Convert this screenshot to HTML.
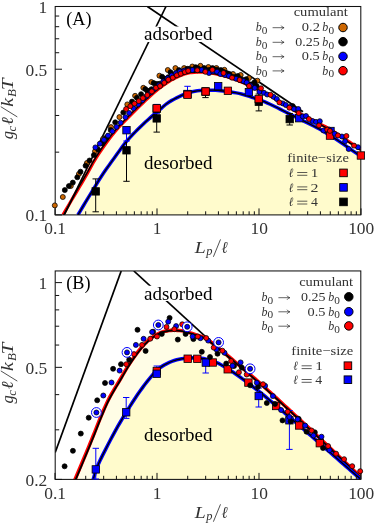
<!DOCTYPE html>
<html><head><meta charset="utf-8"><title>figure</title>
<style>
html,body{margin:0;padding:0;background:#fff;}
body{width:374px;height:523px;overflow:hidden;font-family:"Liberation Serif",serif;}
svg{display:block;will-change:transform;font-family:"Liberation Serif",serif;}
.it{font-style:italic;}
</style></head><body>
<svg width="374" height="523" viewBox="0 0 374 523">
<rect width="374" height="523" fill="#fff"/>
<clipPath id="cA"><rect x="55.2" y="6.5" width="305.6" height="208.4"/></clipPath><g clip-path="url(#cA)">
<path d="M63.00,214.90 L65.73,210.15 L68.47,205.43 L71.20,200.77 L73.94,196.17 L76.67,191.61 L79.40,187.03 L82.14,182.41 L84.87,177.76 L87.61,173.01 L90.34,168.01 L93.07,162.96 L95.81,158.32 L98.54,154.07 L101.28,150.03 L104.01,146.10 L106.74,142.28 L109.48,138.61 L112.21,135.09 L114.94,131.70 L117.68,128.51 L120.41,125.54 L123.15,122.67 L125.88,119.85 L128.61,117.08 L131.35,114.35 L134.08,111.62 L136.82,108.91 L139.55,106.22 L142.28,103.56 L145.02,100.91 L147.75,98.31 L150.49,95.80 L153.22,93.37 L155.95,91.04 L158.69,88.78 L161.42,86.63 L164.16,84.65 L166.89,82.81 L169.62,81.09 L172.36,79.49 L175.09,78.04 L177.83,76.74 L180.56,75.57 L183.29,74.46 L186.03,73.56 L188.76,72.98 L191.50,72.54 L194.23,72.32 L196.96,72.17 L199.70,72.10 L202.43,72.21 L205.17,72.50 L207.90,72.79 L210.63,73.09 L213.37,73.46 L216.10,73.96 L218.83,74.57 L221.57,75.26 L224.30,76.01 L227.04,76.79 L229.77,77.65 L232.50,78.59 L235.24,79.58 L237.97,80.61 L240.71,81.68 L243.44,82.83 L246.17,84.06 L248.91,85.31 L251.64,86.54 L254.38,87.77 L257.11,89.02 L259.84,90.32 L262.58,91.68 L265.31,93.08 L268.05,94.53 L270.78,96.07 L273.51,97.76 L276.25,99.57 L278.98,101.36 L281.72,103.03 L284.45,104.61 L287.18,106.17 L289.92,107.75 L292.65,109.40 L295.39,111.08 L298.12,112.72 L300.85,114.27 L303.59,115.73 L306.32,117.13 L309.06,118.51 L311.79,119.89 L314.52,121.26 L317.26,122.59 L319.99,123.93 L322.72,125.30 L325.46,126.76 L328.19,128.31 L330.93,129.93 L333.66,131.63 L336.39,133.37 L339.13,135.16 L341.86,136.97 L344.60,138.80 L347.33,140.63 L350.06,142.45 L352.80,144.26 L355.53,146.09 L358.27,147.94 L361.00,149.80 L361,214.9 L63,214.9 Z" fill="#fffde6"/>
<path d="M77.90,215.00 L80.50,210.60 L83.09,206.24 L85.69,201.91 L88.29,197.62 L90.89,193.37 L93.48,189.14 L96.08,184.87 L98.68,180.52 L101.28,176.44 L103.87,172.57 L106.47,168.83 L109.07,165.17 L111.66,161.56 L114.26,157.95 L116.86,154.30 L119.46,150.64 L122.05,147.05 L124.65,143.65 L127.25,140.50 L129.84,137.57 L132.44,134.78 L135.04,132.11 L137.64,129.52 L140.23,126.97 L142.83,124.48 L145.43,122.07 L148.03,119.72 L150.62,117.41 L153.22,115.13 L155.82,112.92 L158.41,110.75 L161.01,108.56 L163.61,106.25 L166.21,104.03 L168.80,102.21 L171.40,100.63 L174.00,99.19 L176.60,97.86 L179.19,96.59 L181.79,95.31 L184.39,94.08 L186.98,93.15 L189.58,92.44 L192.18,91.79 L194.78,91.25 L197.37,90.84 L199.97,90.60 L202.57,90.47 L205.17,90.36 L207.76,90.27 L210.36,90.22 L212.96,90.20 L215.55,90.28 L218.15,90.47 L220.75,90.73 L223.35,91.02 L225.94,91.30 L228.54,91.62 L231.14,91.99 L233.73,92.41 L236.33,92.87 L238.93,93.39 L241.53,94.02 L244.12,94.75 L246.72,95.57 L249.32,96.42 L251.92,97.27 L254.51,98.12 L257.11,98.99 L259.71,99.91 L262.30,100.87 L264.90,101.91 L267.50,103.05 L270.10,104.24 L272.69,105.47 L275.29,106.74 L277.89,108.04 L280.49,109.34 L283.08,110.68 L285.68,112.03 L288.28,113.34 L290.87,114.64 L293.47,115.92 L296.07,117.20 L298.67,118.48 L301.26,119.78 L303.86,121.08 L306.46,122.38 L309.06,123.67 L311.65,124.98 L314.25,126.30 L316.85,127.67 L319.44,129.09 L322.04,130.57 L324.64,132.10 L327.24,133.67 L329.83,135.29 L332.43,136.94 L335.03,138.62 L337.62,140.31 L340.22,142.03 L342.82,143.75 L345.42,145.53 L348.01,147.38 L350.61,149.24 L353.21,151.06 L355.81,152.82 L358.40,154.45 L361.00,156.00 L361,214.9 L78.7,214.9 Z" fill="#fffbcc"/>
<path d="M63.00,214.90 L65.73,210.15 L68.47,205.43 L71.20,200.77 L73.94,196.17 L76.67,191.61 L79.40,187.03 L82.14,182.41 L84.87,177.76 L87.61,173.01 L90.34,168.01 L93.07,162.96 L95.81,158.32 L98.54,154.07 L101.28,150.03 L104.01,146.10 L106.74,142.28 L109.48,138.61 L112.21,135.09 L114.94,131.70 L117.68,128.51 L120.41,125.54 L123.15,122.67 L125.88,119.85 L128.61,117.08 L131.35,114.35 L134.08,111.62 L136.82,108.91 L139.55,106.22 L142.28,103.56 L145.02,100.91 L147.75,98.31 L150.49,95.80 L153.22,93.37 L155.95,91.04 L158.69,88.78 L161.42,86.63 L164.16,84.65 L166.89,82.81 L169.62,81.09 L172.36,79.49 L175.09,78.04 L177.83,76.74 L180.56,75.57 L183.29,74.46 L186.03,73.56 L188.76,72.98 L191.50,72.54 L194.23,72.32 L196.96,72.17 L199.70,72.10 L202.43,72.21 L205.17,72.50 L207.90,72.79 L210.63,73.09 L213.37,73.46 L216.10,73.96 L218.83,74.57 L221.57,75.26 L224.30,76.01 L227.04,76.79 L229.77,77.65 L232.50,78.59 L235.24,79.58 L237.97,80.61 L240.71,81.68 L243.44,82.83 L246.17,84.06 L248.91,85.31 L251.64,86.54 L254.38,87.77 L257.11,89.02 L259.84,90.32 L262.58,91.68 L265.31,93.08 L268.05,94.53 L270.78,96.07 L273.51,97.76 L276.25,99.57 L278.98,101.36 L281.72,103.03 L284.45,104.61 L287.18,106.17 L289.92,107.75 L292.65,109.40 L295.39,111.08 L298.12,112.72 L300.85,114.27 L303.59,115.73 L306.32,117.13 L309.06,118.51 L311.79,119.89 L314.52,121.26 L317.26,122.59 L319.99,123.93 L322.72,125.30 L325.46,126.76 L328.19,128.31 L330.93,129.93 L333.66,131.63 L336.39,133.37 L339.13,135.16 L341.86,136.97 L344.60,138.80 L347.33,140.63 L350.06,142.45 L352.80,144.26 L355.53,146.09 L358.27,147.94 L361.00,149.80" stroke="#ff0000" stroke-width="3.2" fill="none"/>
<path d="M63.00,216.40 L65.73,211.19 L68.47,206.02 L71.20,200.90 L73.94,195.90 L76.67,190.97 L79.40,186.01 L82.14,181.32 L84.87,176.68 L87.61,171.94 L90.34,166.95 L93.07,161.91 L95.81,157.28 L98.54,153.04 L101.28,149.01 L104.01,145.09 L106.74,141.29 L109.48,137.63 L112.21,134.12 L114.94,130.74 L117.68,127.57 L120.41,124.60 L123.15,121.74 L125.88,118.93 L128.61,116.18 L131.35,113.46 L134.08,110.76 L136.82,108.07 L139.55,105.41 L142.28,102.78 L145.02,100.16 L147.75,97.59 L150.49,95.10 L153.22,92.70 L155.95,90.40 L158.69,88.17 L161.42,86.05 L164.16,84.09 L166.89,82.28 L169.62,80.59 L172.36,79.03 L175.09,77.63 L177.83,76.37 L180.56,75.25 L183.29,74.19 L186.03,73.33 L188.76,72.79 L191.50,72.40 L194.23,72.22 L196.96,72.12 L199.70,72.10 L202.43,72.24 L205.17,72.55 L207.90,72.87 L210.63,73.19 L213.37,73.59 L216.10,74.12 L218.83,74.76 L221.57,75.48 L224.30,76.25 L227.04,77.06 L229.77,77.95 L232.50,78.91 L235.24,79.93 L237.97,80.99 L240.71,82.09 L243.44,83.27 L246.17,84.52 L248.91,85.80 L251.64,87.05 L254.38,88.31 L257.11,89.59 L259.84,90.92 L262.58,92.28 L265.31,93.68 L268.05,95.13 L270.78,96.67 L273.51,98.36 L276.25,100.17 L278.98,101.96 L281.72,103.63 L284.45,105.21 L287.18,106.77 L289.92,108.35 L292.65,110.00 L295.39,111.68 L298.12,113.32 L300.85,114.87 L303.59,116.33 L306.32,117.73 L309.06,119.11 L311.79,120.49 L314.52,121.86 L317.26,123.19 L319.99,124.53 L322.72,125.90 L325.46,127.36 L328.19,128.91 L330.93,130.53 L333.66,132.23 L336.39,133.97 L339.13,135.76 L341.86,137.57 L344.60,139.40 L347.33,141.23 L350.06,143.05 L352.80,144.86 L355.53,146.69 L358.27,148.54 L361.00,150.40" stroke="#000" stroke-width="1.4" fill="none"/>
<path d="M77.90,215.00 L80.50,210.60 L83.09,206.24 L85.69,201.91 L88.29,197.62 L90.89,193.37 L93.48,189.14 L96.08,184.87 L98.68,180.52 L101.28,176.44 L103.87,172.57 L106.47,168.83 L109.07,165.17 L111.66,161.56 L114.26,157.95 L116.86,154.30 L119.46,150.64 L122.05,147.05 L124.65,143.65 L127.25,140.50 L129.84,137.57 L132.44,134.78 L135.04,132.11 L137.64,129.52 L140.23,126.97 L142.83,124.48 L145.43,122.07 L148.03,119.72 L150.62,117.41 L153.22,115.13 L155.82,112.92 L158.41,110.75 L161.01,108.56 L163.61,106.25 L166.21,104.03 L168.80,102.21 L171.40,100.63 L174.00,99.19 L176.60,97.86 L179.19,96.59 L181.79,95.31 L184.39,94.08 L186.98,93.15 L189.58,92.44 L192.18,91.79 L194.78,91.25 L197.37,90.84 L199.97,90.60 L202.57,90.47 L205.17,90.36 L207.76,90.27 L210.36,90.22 L212.96,90.20 L215.55,90.28 L218.15,90.47 L220.75,90.73 L223.35,91.02 L225.94,91.30 L228.54,91.62 L231.14,91.99 L233.73,92.41 L236.33,92.87 L238.93,93.39 L241.53,94.02 L244.12,94.75 L246.72,95.57 L249.32,96.42 L251.92,97.27 L254.51,98.12 L257.11,98.99 L259.71,99.91 L262.30,100.87 L264.90,101.91 L267.50,103.05 L270.10,104.24 L272.69,105.47 L275.29,106.74 L277.89,108.04 L280.49,109.34 L283.08,110.68 L285.68,112.03 L288.28,113.34 L290.87,114.64 L293.47,115.92 L296.07,117.20 L298.67,118.48 L301.26,119.78 L303.86,121.08 L306.46,122.38 L309.06,123.67 L311.65,124.98 L314.25,126.30 L316.85,127.67 L319.44,129.09 L322.04,130.57 L324.64,132.10 L327.24,133.67 L329.83,135.29 L332.43,136.94 L335.03,138.62 L337.62,140.31 L340.22,142.03 L342.82,143.75 L345.42,145.53 L348.01,147.38 L350.61,149.24 L353.21,151.06 L355.81,152.82 L358.40,154.45 L361.00,156.00" stroke="#0000ff" stroke-width="3.5" fill="none"/>
<path d="M77.90,215.00 L80.50,210.60 L83.09,206.24 L85.69,201.91 L88.29,197.62 L90.89,193.37 L93.48,189.14 L96.08,184.87 L98.68,180.52 L101.28,176.44 L103.87,172.57 L106.47,168.83 L109.07,165.17 L111.66,161.56 L114.26,157.95 L116.86,154.30 L119.46,150.64 L122.05,147.05 L124.65,143.65 L127.25,140.50 L129.84,137.57 L132.44,134.78 L135.04,132.11 L137.64,129.52 L140.23,126.97 L142.83,124.48 L145.43,122.07 L148.03,119.72 L150.62,117.41 L153.22,115.13 L155.82,112.92 L158.41,110.75 L161.01,108.56 L163.61,106.25 L166.21,104.03 L168.80,102.21 L171.40,100.63 L174.00,99.19 L176.60,97.86 L179.19,96.59 L181.79,95.31 L184.39,94.08 L186.98,93.15 L189.58,92.44 L192.18,91.79 L194.78,91.25 L197.37,90.84 L199.97,90.60 L202.57,90.47 L205.17,90.36 L207.76,90.27 L210.36,90.22 L212.96,90.20 L215.55,90.28 L218.15,90.47 L220.75,90.73 L223.35,91.02 L225.94,91.30 L228.54,91.62 L231.14,91.99 L233.73,92.41 L236.33,92.87 L238.93,93.39 L241.53,94.02 L244.12,94.75 L246.72,95.57 L249.32,96.42 L251.92,97.27 L254.51,98.12 L257.11,98.99 L259.71,99.91 L262.30,100.87 L264.90,101.91 L267.50,103.05 L270.10,104.24 L272.69,105.47 L275.29,106.74 L277.89,108.04 L280.49,109.34 L283.08,110.68 L285.68,112.03 L288.28,113.34 L290.87,114.64 L293.47,115.92 L296.07,117.20 L298.67,118.48 L301.26,119.78 L303.86,121.08 L306.46,122.38 L309.06,123.67 L311.65,124.98 L314.25,126.30 L316.85,127.67 L319.44,129.09 L322.04,130.57 L324.64,132.10 L327.24,133.67 L329.83,135.29 L332.43,136.94 L335.03,138.62 L337.62,140.31 L340.22,142.03 L342.82,143.75 L345.42,145.53 L348.01,147.38 L350.61,149.24 L353.21,151.06 L355.81,152.82 L358.40,154.45 L361.00,156.00" stroke="#000" stroke-width="1.3" fill="none"/>
<path d="M64.25,214.9 L165.96,6.5" stroke="#000" stroke-width="1.7"/>
<path d="M147.4,6.5 L303,111.74" stroke="#000" stroke-width="1.7"/>
<rect x="142.5" y="26.5" width="71" height="15.5" fill="#fff"/>
<text x="144" y="40.1" font-size="18.6" text-anchor="start" fill="#000"  textLength="68.5" lengthAdjust="spacingAndGlyphs">adsorbed</text>
<text x="144" y="168.8" font-size="18.6" text-anchor="start" fill="#000"  textLength="68.5" lengthAdjust="spacingAndGlyphs">desorbed</text>
</g>
<path d="M55.00,214.9 v-6.5" stroke="#111" stroke-width="1.0"/>
<path d="M85.71,214.9 v-3.6" stroke="#111" stroke-width="1.0"/>
<path d="M103.67,214.9 v-3.6" stroke="#111" stroke-width="1.0"/>
<path d="M116.41,214.9 v-3.6" stroke="#111" stroke-width="1.0"/>
<path d="M126.29,214.9 v-3.6" stroke="#111" stroke-width="1.0"/>
<path d="M134.37,214.9 v-3.6" stroke="#111" stroke-width="1.0"/>
<path d="M141.20,214.9 v-3.6" stroke="#111" stroke-width="1.0"/>
<path d="M147.12,214.9 v-3.6" stroke="#111" stroke-width="1.0"/>
<path d="M152.33,214.9 v-3.6" stroke="#111" stroke-width="1.0"/>
<path d="M157.00,214.9 v-6.5" stroke="#111" stroke-width="1.0"/>
<path d="M187.71,214.9 v-3.6" stroke="#111" stroke-width="1.0"/>
<path d="M205.67,214.9 v-3.6" stroke="#111" stroke-width="1.0"/>
<path d="M218.41,214.9 v-3.6" stroke="#111" stroke-width="1.0"/>
<path d="M228.29,214.9 v-3.6" stroke="#111" stroke-width="1.0"/>
<path d="M236.37,214.9 v-3.6" stroke="#111" stroke-width="1.0"/>
<path d="M243.20,214.9 v-3.6" stroke="#111" stroke-width="1.0"/>
<path d="M249.12,214.9 v-3.6" stroke="#111" stroke-width="1.0"/>
<path d="M254.33,214.9 v-3.6" stroke="#111" stroke-width="1.0"/>
<path d="M259.00,214.9 v-6.5" stroke="#111" stroke-width="1.0"/>
<path d="M289.71,214.9 v-3.6" stroke="#111" stroke-width="1.0"/>
<path d="M307.67,214.9 v-3.6" stroke="#111" stroke-width="1.0"/>
<path d="M320.41,214.9 v-3.6" stroke="#111" stroke-width="1.0"/>
<path d="M330.29,214.9 v-3.6" stroke="#111" stroke-width="1.0"/>
<path d="M338.37,214.9 v-3.6" stroke="#111" stroke-width="1.0"/>
<path d="M345.20,214.9 v-3.6" stroke="#111" stroke-width="1.0"/>
<path d="M351.12,214.9 v-3.6" stroke="#111" stroke-width="1.0"/>
<path d="M356.33,214.9 v-3.6" stroke="#111" stroke-width="1.0"/>
<path d="M361.00,214.9 v-6.5" stroke="#111" stroke-width="1.0"/>
<path d="M55.2,6.50 h6.8" stroke="#111" stroke-width="1.0"/>
<path d="M55.2,69.23 h6.8" stroke="#111" stroke-width="1.0"/>
<path d="M55.2,214.90 h6.8" stroke="#111" stroke-width="1.0"/>
<path d="M55.2,16.04 h4" stroke="#111" stroke-width="1.0"/>
<path d="M55.2,26.70 h4" stroke="#111" stroke-width="1.0"/>
<path d="M55.2,38.78 h4" stroke="#111" stroke-width="1.0"/>
<path d="M55.2,52.73 h4" stroke="#111" stroke-width="1.0"/>
<path d="M55.2,89.43 h4" stroke="#111" stroke-width="1.0"/>
<path d="M55.2,115.47 h4" stroke="#111" stroke-width="1.0"/>
<path d="M55.2,152.17 h4" stroke="#111" stroke-width="1.0"/>
<rect x="55.2" y="6.5" width="305.6" height="208.4" fill="none" stroke="#111" stroke-width="1.05"/>
<text x="47.3" y="13.0" font-size="17.4" text-anchor="end" fill="#333" >1</text>
<text x="47.3" y="75.7" font-size="17.4" text-anchor="end" fill="#333" >0.5</text>
<text x="47.3" y="221.4" font-size="17.4" text-anchor="end" fill="#333" >0.1</text>
<text x="55.2" y="234.4" font-size="17.4" text-anchor="middle" fill="#333" >0.1</text>
<text x="157.2" y="234.4" font-size="17.4" text-anchor="middle" fill="#333" >1</text>
<text x="259.2" y="234.4" font-size="17.4" text-anchor="middle" fill="#333" >10</text>
<text x="361.2" y="234.4" font-size="17.4" text-anchor="middle" fill="#333" >100</text>
<path d="M95.70,178.90 V211.80 M92.50,178.90 h6.4 M92.50,211.80 h6.4" stroke="#000" stroke-width="1.0" fill="none"/>
<path d="M126.50,127.50 V181.30 M123.30,127.50 h6.4 M123.30,181.30 h6.4" stroke="#000" stroke-width="1.0" fill="none"/>
<path d="M156.70,106.00 V132.10 M153.50,106.00 h6.4 M153.50,132.10 h6.4" stroke="#000" stroke-width="1.0" fill="none"/>
<path d="M205.50,88.00 V97.60 M202.30,88.00 h6.4 M202.30,97.60 h6.4" stroke="#000" stroke-width="1.0" fill="none"/>
<path d="M258.80,94.00 V110.90 M255.60,94.00 h6.4 M255.60,110.90 h6.4" stroke="#000" stroke-width="1.0" fill="none"/>
<path d="M289.70,113.50 V125.00 M286.50,113.50 h6.4 M286.50,125.00 h6.4" stroke="#000" stroke-width="1.0" fill="none"/>
<path d="M126.50,127.00 V141.00 M123.30,127.00 h6.4 M123.30,141.00 h6.4" stroke="#0000ff" stroke-width="1.0" fill="none"/>
<path d="M156.70,104.40 V113.30 M153.50,104.40 h6.4 M153.50,113.30 h6.4" stroke="#0000ff" stroke-width="1.0" fill="none"/>
<path d="M187.50,86.30 V96.00 M184.30,86.30 h6.4 M184.30,96.00 h6.4" stroke="#0000ff" stroke-width="1.0" fill="none"/>
<rect x="92.00" y="187.70" width="7.4" height="7.4" fill="#000" stroke="#000" stroke-width="0.8"/>
<rect x="122.80" y="146.60" width="7.4" height="7.4" fill="#000" stroke="#000" stroke-width="0.8"/>
<rect x="153.00" y="114.70" width="7.4" height="7.4" fill="#000" stroke="#000" stroke-width="0.8"/>
<rect x="201.80" y="87.90" width="7.4" height="7.4" fill="#000" stroke="#000" stroke-width="0.8"/>
<rect x="255.10" y="98.10" width="7.4" height="7.4" fill="#000" stroke="#000" stroke-width="0.8"/>
<rect x="286.00" y="115.40" width="7.4" height="7.4" fill="#000" stroke="#000" stroke-width="0.8"/>
<rect x="122.80" y="126.50" width="7.4" height="7.4" fill="#0000ff" stroke="#000" stroke-width="0.8"/>
<rect x="153.00" y="105.10" width="7.4" height="7.4" fill="#0000ff" stroke="#000" stroke-width="0.8"/>
<rect x="183.80" y="90.30" width="7.4" height="7.4" fill="#0000ff" stroke="#000" stroke-width="0.8"/>
<rect x="214.50" y="82.40" width="7.4" height="7.4" fill="#0000ff" stroke="#000" stroke-width="0.8"/>
<rect x="245.20" y="88.40" width="7.4" height="7.4" fill="#0000ff" stroke="#000" stroke-width="0.8"/>
<rect x="295.50" y="114.50" width="7.4" height="7.4" fill="#0000ff" stroke="#000" stroke-width="0.8"/>
<rect x="326.80" y="127.30" width="7.4" height="7.4" fill="#0000ff" stroke="#000" stroke-width="0.8"/>
<rect x="153.00" y="104.60" width="7.4" height="7.4" fill="#ff0000" stroke="#000" stroke-width="0.8"/>
<rect x="183.80" y="91.00" width="7.4" height="7.4" fill="#ff0000" stroke="#000" stroke-width="0.8"/>
<rect x="201.90" y="87.80" width="7.4" height="7.4" fill="#ff0000" stroke="#000" stroke-width="0.8"/>
<rect x="224.20" y="87.10" width="7.4" height="7.4" fill="#ff0000" stroke="#000" stroke-width="0.8"/>
<rect x="255.00" y="95.30" width="7.4" height="7.4" fill="#ff0000" stroke="#000" stroke-width="0.8"/>
<rect x="326.30" y="131.90" width="7.4" height="7.4" fill="#ff0000" stroke="#000" stroke-width="0.8"/>
<rect x="357.20" y="151.80" width="7.4" height="7.4" fill="#ff0000" stroke="#000" stroke-width="0.8"/>
<circle cx="54.80" cy="205.40" r="2.5" fill="#cc6600" stroke="#000" stroke-width="0.75"/>
<circle cx="62.80" cy="197.00" r="2.5" fill="#cc6600" stroke="#000" stroke-width="0.75"/>
<circle cx="70.80" cy="186.00" r="2.5" fill="#cc6600" stroke="#000" stroke-width="0.75"/>
<circle cx="78.90" cy="174.00" r="2.5" fill="#cc6600" stroke="#000" stroke-width="0.75"/>
<circle cx="86.90" cy="163.00" r="2.5" fill="#cc6600" stroke="#000" stroke-width="0.75"/>
<circle cx="95.00" cy="151.30" r="2.5" fill="#cc6600" stroke="#000" stroke-width="0.75"/>
<circle cx="103.00" cy="139.00" r="2.5" fill="#cc6600" stroke="#000" stroke-width="0.75"/>
<circle cx="111.00" cy="127.10" r="2.5" fill="#cc6600" stroke="#000" stroke-width="0.75"/>
<circle cx="119.40" cy="117.10" r="2.5" fill="#cc6600" stroke="#000" stroke-width="0.75"/>
<circle cx="127.30" cy="104.40" r="2.5" fill="#cc6600" stroke="#000" stroke-width="0.75"/>
<circle cx="135.10" cy="95.80" r="2.5" fill="#cc6600" stroke="#000" stroke-width="0.75"/>
<circle cx="143.30" cy="87.80" r="2.5" fill="#cc6600" stroke="#000" stroke-width="0.75"/>
<circle cx="151.30" cy="82.00" r="2.5" fill="#cc6600" stroke="#000" stroke-width="0.75"/>
<circle cx="159.40" cy="75.70" r="2.5" fill="#cc6600" stroke="#000" stroke-width="0.75"/>
<circle cx="167.80" cy="70.00" r="2.5" fill="#cc6600" stroke="#000" stroke-width="0.75"/>
<circle cx="175.40" cy="68.10" r="2.5" fill="#cc6600" stroke="#000" stroke-width="0.75"/>
<circle cx="184.10" cy="68.10" r="2.5" fill="#cc6600" stroke="#000" stroke-width="0.75"/>
<circle cx="192.30" cy="66.50" r="2.5" fill="#cc6600" stroke="#000" stroke-width="0.75"/>
<circle cx="200.40" cy="65.80" r="2.5" fill="#cc6600" stroke="#000" stroke-width="0.75"/>
<circle cx="208.40" cy="67.00" r="2.5" fill="#cc6600" stroke="#000" stroke-width="0.75"/>
<circle cx="216.40" cy="68.00" r="2.5" fill="#cc6600" stroke="#000" stroke-width="0.75"/>
<circle cx="224.40" cy="69.80" r="2.5" fill="#cc6600" stroke="#000" stroke-width="0.75"/>
<circle cx="233.00" cy="74.00" r="2.5" fill="#cc6600" stroke="#000" stroke-width="0.75"/>
<circle cx="240.70" cy="75.00" r="2.5" fill="#cc6600" stroke="#000" stroke-width="0.75"/>
<circle cx="249.00" cy="78.00" r="2.5" fill="#cc6600" stroke="#000" stroke-width="0.75"/>
<circle cx="257.40" cy="80.70" r="2.5" fill="#cc6600" stroke="#000" stroke-width="0.75"/>
<circle cx="64.80" cy="190.10" r="2.5" fill="#000" stroke="#000" stroke-width="0.75"/>
<circle cx="68.90" cy="186.10" r="2.5" fill="#000" stroke="#000" stroke-width="0.75"/>
<circle cx="72.80" cy="182.60" r="2.5" fill="#000" stroke="#000" stroke-width="0.75"/>
<circle cx="77.30" cy="177.30" r="2.5" fill="#000" stroke="#000" stroke-width="0.75"/>
<circle cx="80.50" cy="171.70" r="2.5" fill="#000" stroke="#000" stroke-width="0.75"/>
<circle cx="85.60" cy="165.70" r="2.5" fill="#000" stroke="#000" stroke-width="0.75"/>
<circle cx="89.50" cy="160.50" r="2.5" fill="#000" stroke="#000" stroke-width="0.75"/>
<circle cx="93.90" cy="155.10" r="2.5" fill="#000" stroke="#000" stroke-width="0.75"/>
<circle cx="98.10" cy="149.50" r="2.5" fill="#000" stroke="#000" stroke-width="0.75"/>
<circle cx="102.30" cy="143.50" r="2.5" fill="#000" stroke="#000" stroke-width="0.75"/>
<circle cx="106.50" cy="137.50" r="2.5" fill="#000" stroke="#000" stroke-width="0.75"/>
<circle cx="110.70" cy="130.00" r="2.5" fill="#000" stroke="#000" stroke-width="0.75"/>
<circle cx="115.20" cy="122.30" r="2.5" fill="#000" stroke="#000" stroke-width="0.75"/>
<circle cx="123.30" cy="112.50" r="2.5" fill="#000" stroke="#000" stroke-width="0.75"/>
<circle cx="132.00" cy="101.60" r="2.5" fill="#000" stroke="#000" stroke-width="0.75"/>
<circle cx="136.90" cy="97.80" r="2.5" fill="#000" stroke="#000" stroke-width="0.75"/>
<circle cx="141.10" cy="94.20" r="2.5" fill="#000" stroke="#000" stroke-width="0.75"/>
<circle cx="145.30" cy="89.09" r="2.5" fill="#000" stroke="#000" stroke-width="0.75"/>
<circle cx="147.40" cy="91.09" r="2.5" fill="#000" stroke="#000" stroke-width="0.75"/>
<circle cx="149.50" cy="90.68" r="2.5" fill="#000" stroke="#000" stroke-width="0.75"/>
<circle cx="151.60" cy="89.20" r="2.5" fill="#000" stroke="#000" stroke-width="0.75"/>
<circle cx="153.70" cy="83.10" r="2.5" fill="#000" stroke="#000" stroke-width="0.75"/>
<circle cx="155.80" cy="83.98" r="2.5" fill="#000" stroke="#000" stroke-width="0.75"/>
<circle cx="157.90" cy="84.02" r="2.5" fill="#000" stroke="#000" stroke-width="0.75"/>
<circle cx="160.00" cy="83.63" r="2.5" fill="#000" stroke="#000" stroke-width="0.75"/>
<circle cx="162.10" cy="76.72" r="2.5" fill="#000" stroke="#000" stroke-width="0.75"/>
<circle cx="164.20" cy="78.54" r="2.5" fill="#000" stroke="#000" stroke-width="0.75"/>
<circle cx="166.30" cy="78.93" r="2.5" fill="#000" stroke="#000" stroke-width="0.75"/>
<circle cx="168.40" cy="77.15" r="2.5" fill="#000" stroke="#000" stroke-width="0.75"/>
<circle cx="170.50" cy="72.21" r="2.5" fill="#000" stroke="#000" stroke-width="0.75"/>
<circle cx="172.60" cy="74.23" r="2.5" fill="#000" stroke="#000" stroke-width="0.75"/>
<circle cx="174.70" cy="74.55" r="2.5" fill="#000" stroke="#000" stroke-width="0.75"/>
<circle cx="176.80" cy="73.22" r="2.5" fill="#000" stroke="#000" stroke-width="0.75"/>
<circle cx="178.90" cy="70.10" r="2.5" fill="#000" stroke="#000" stroke-width="0.75"/>
<circle cx="181.00" cy="71.82" r="2.5" fill="#000" stroke="#000" stroke-width="0.75"/>
<circle cx="183.10" cy="71.62" r="2.5" fill="#000" stroke="#000" stroke-width="0.75"/>
<circle cx="185.20" cy="71.15" r="2.5" fill="#000" stroke="#000" stroke-width="0.75"/>
<circle cx="187.30" cy="68.80" r="2.5" fill="#000" stroke="#000" stroke-width="0.75"/>
<circle cx="189.40" cy="68.97" r="2.5" fill="#000" stroke="#000" stroke-width="0.75"/>
<circle cx="191.50" cy="69.74" r="2.5" fill="#000" stroke="#000" stroke-width="0.75"/>
<circle cx="193.60" cy="69.45" r="2.5" fill="#000" stroke="#000" stroke-width="0.75"/>
<circle cx="195.70" cy="67.20" r="2.5" fill="#000" stroke="#000" stroke-width="0.75"/>
<circle cx="197.80" cy="68.26" r="2.5" fill="#000" stroke="#000" stroke-width="0.75"/>
<circle cx="199.90" cy="69.75" r="2.5" fill="#000" stroke="#000" stroke-width="0.75"/>
<circle cx="202.00" cy="69.88" r="2.5" fill="#000" stroke="#000" stroke-width="0.75"/>
<circle cx="204.10" cy="68.03" r="2.5" fill="#000" stroke="#000" stroke-width="0.75"/>
<circle cx="206.20" cy="70.08" r="2.5" fill="#000" stroke="#000" stroke-width="0.75"/>
<circle cx="208.30" cy="70.19" r="2.5" fill="#000" stroke="#000" stroke-width="0.75"/>
<circle cx="210.40" cy="69.79" r="2.5" fill="#000" stroke="#000" stroke-width="0.75"/>
<circle cx="212.50" cy="68.10" r="2.5" fill="#000" stroke="#000" stroke-width="0.75"/>
<circle cx="214.60" cy="69.67" r="2.5" fill="#000" stroke="#000" stroke-width="0.75"/>
<circle cx="216.70" cy="69.83" r="2.5" fill="#000" stroke="#000" stroke-width="0.75"/>
<circle cx="218.80" cy="70.47" r="2.5" fill="#000" stroke="#000" stroke-width="0.75"/>
<circle cx="220.90" cy="70.10" r="2.5" fill="#000" stroke="#000" stroke-width="0.75"/>
<circle cx="223.00" cy="71.63" r="2.5" fill="#000" stroke="#000" stroke-width="0.75"/>
<circle cx="225.10" cy="72.53" r="2.5" fill="#000" stroke="#000" stroke-width="0.75"/>
<circle cx="227.20" cy="73.29" r="2.5" fill="#000" stroke="#000" stroke-width="0.75"/>
<circle cx="229.30" cy="73.93" r="2.5" fill="#000" stroke="#000" stroke-width="0.75"/>
<circle cx="231.40" cy="76.40" r="2.5" fill="#000" stroke="#000" stroke-width="0.75"/>
<circle cx="233.50" cy="77.28" r="2.5" fill="#000" stroke="#000" stroke-width="0.75"/>
<circle cx="235.60" cy="76.95" r="2.5" fill="#000" stroke="#000" stroke-width="0.75"/>
<circle cx="237.70" cy="76.03" r="2.5" fill="#000" stroke="#000" stroke-width="0.75"/>
<circle cx="239.80" cy="78.68" r="2.5" fill="#000" stroke="#000" stroke-width="0.75"/>
<circle cx="241.90" cy="79.68" r="2.5" fill="#000" stroke="#000" stroke-width="0.75"/>
<circle cx="244.00" cy="80.34" r="2.5" fill="#000" stroke="#000" stroke-width="0.75"/>
<circle cx="246.10" cy="79.21" r="2.5" fill="#000" stroke="#000" stroke-width="0.75"/>
<circle cx="248.20" cy="84.03" r="2.5" fill="#000" stroke="#000" stroke-width="0.75"/>
<circle cx="250.30" cy="84.52" r="2.5" fill="#000" stroke="#000" stroke-width="0.75"/>
<circle cx="252.40" cy="84.21" r="2.5" fill="#000" stroke="#000" stroke-width="0.75"/>
<circle cx="254.50" cy="82.27" r="2.5" fill="#000" stroke="#000" stroke-width="0.75"/>
<circle cx="256.60" cy="86.03" r="2.5" fill="#000" stroke="#000" stroke-width="0.75"/>
<circle cx="292.70" cy="106.10" r="2.5" fill="#000" stroke="#000" stroke-width="0.75"/>
<circle cx="95.40" cy="147.40" r="2.5" fill="#0000ff" stroke="#000" stroke-width="0.75"/>
<circle cx="99.80" cy="143.70" r="2.5" fill="#0000ff" stroke="#000" stroke-width="0.75"/>
<circle cx="103.90" cy="139.80" r="2.5" fill="#0000ff" stroke="#000" stroke-width="0.75"/>
<circle cx="108.00" cy="135.60" r="2.5" fill="#0000ff" stroke="#000" stroke-width="0.75"/>
<circle cx="112.30" cy="131.30" r="2.5" fill="#0000ff" stroke="#000" stroke-width="0.75"/>
<circle cx="116.50" cy="126.90" r="2.5" fill="#0000ff" stroke="#000" stroke-width="0.75"/>
<circle cx="120.60" cy="122.70" r="2.5" fill="#0000ff" stroke="#000" stroke-width="0.75"/>
<circle cx="125.40" cy="117.20" r="2.5" fill="#0000ff" stroke="#000" stroke-width="0.75"/>
<circle cx="129.10" cy="112.90" r="2.5" fill="#0000ff" stroke="#000" stroke-width="0.75"/>
<circle cx="133.50" cy="108.30" r="2.5" fill="#0000ff" stroke="#000" stroke-width="0.75"/>
<circle cx="138.10" cy="104.40" r="2.5" fill="#0000ff" stroke="#000" stroke-width="0.75"/>
<circle cx="142.30" cy="100.30" r="2.5" fill="#0000ff" stroke="#000" stroke-width="0.75"/>
<circle cx="146.50" cy="96.30" r="2.5" fill="#0000ff" stroke="#000" stroke-width="0.75"/>
<circle cx="150.70" cy="92.40" r="2.5" fill="#0000ff" stroke="#000" stroke-width="0.75"/>
<circle cx="154.90" cy="88.70" r="2.5" fill="#0000ff" stroke="#000" stroke-width="0.75"/>
<circle cx="159.10" cy="85.00" r="2.5" fill="#0000ff" stroke="#000" stroke-width="0.75"/>
<circle cx="163.30" cy="81.50" r="2.5" fill="#0000ff" stroke="#000" stroke-width="0.75"/>
<circle cx="167.50" cy="78.30" r="2.5" fill="#0000ff" stroke="#000" stroke-width="0.75"/>
<circle cx="171.70" cy="75.50" r="2.5" fill="#0000ff" stroke="#000" stroke-width="0.75"/>
<circle cx="175.90" cy="73.30" r="2.5" fill="#0000ff" stroke="#000" stroke-width="0.75"/>
<circle cx="180.10" cy="71.50" r="2.5" fill="#0000ff" stroke="#000" stroke-width="0.75"/>
<circle cx="184.30" cy="70.60" r="2.5" fill="#0000ff" stroke="#000" stroke-width="0.75"/>
<circle cx="188.50" cy="70.10" r="2.5" fill="#0000ff" stroke="#000" stroke-width="0.75"/>
<circle cx="192.40" cy="70.00" r="2.5" fill="#0000ff" stroke="#000" stroke-width="0.75"/>
<circle cx="197.00" cy="69.80" r="2.5" fill="#0000ff" stroke="#000" stroke-width="0.75"/>
<circle cx="201.70" cy="70.00" r="2.5" fill="#0000ff" stroke="#000" stroke-width="0.75"/>
<circle cx="205.50" cy="71.00" r="2.5" fill="#0000ff" stroke="#000" stroke-width="0.75"/>
<circle cx="209.00" cy="73.00" r="2.5" fill="#0000ff" stroke="#000" stroke-width="0.75"/>
<circle cx="213.00" cy="71.50" r="2.5" fill="#0000ff" stroke="#000" stroke-width="0.75"/>
<circle cx="217.00" cy="71.70" r="2.5" fill="#0000ff" stroke="#000" stroke-width="0.75"/>
<circle cx="220.40" cy="74.00" r="2.5" fill="#0000ff" stroke="#000" stroke-width="0.75"/>
<circle cx="225.00" cy="75.00" r="2.5" fill="#0000ff" stroke="#000" stroke-width="0.75"/>
<circle cx="229.00" cy="76.00" r="2.5" fill="#0000ff" stroke="#000" stroke-width="0.75"/>
<circle cx="236.00" cy="78.70" r="2.5" fill="#0000ff" stroke="#000" stroke-width="0.75"/>
<circle cx="240.00" cy="80.00" r="2.5" fill="#0000ff" stroke="#000" stroke-width="0.75"/>
<circle cx="243.40" cy="81.10" r="2.5" fill="#0000ff" stroke="#000" stroke-width="0.75"/>
<circle cx="246.70" cy="82.50" r="2.5" fill="#0000ff" stroke="#000" stroke-width="0.75"/>
<circle cx="250.50" cy="85.50" r="2.5" fill="#0000ff" stroke="#000" stroke-width="0.75"/>
<circle cx="254.70" cy="88.00" r="2.5" fill="#0000ff" stroke="#000" stroke-width="0.75"/>
<circle cx="259.40" cy="91.80" r="2.5" fill="#0000ff" stroke="#000" stroke-width="0.75"/>
<circle cx="264.00" cy="92.80" r="2.5" fill="#0000ff" stroke="#000" stroke-width="0.75"/>
<circle cx="267.20" cy="94.50" r="2.5" fill="#0000ff" stroke="#000" stroke-width="0.75"/>
<circle cx="273.50" cy="96.80" r="2.5" fill="#0000ff" stroke="#000" stroke-width="0.75"/>
<circle cx="276.80" cy="99.00" r="2.5" fill="#0000ff" stroke="#000" stroke-width="0.75"/>
<circle cx="282.70" cy="103.40" r="2.5" fill="#0000ff" stroke="#000" stroke-width="0.75"/>
<circle cx="285.80" cy="105.00" r="2.5" fill="#0000ff" stroke="#000" stroke-width="0.75"/>
<circle cx="290.00" cy="107.00" r="2.5" fill="#0000ff" stroke="#000" stroke-width="0.75"/>
<circle cx="294.00" cy="109.00" r="2.5" fill="#0000ff" stroke="#000" stroke-width="0.75"/>
<circle cx="298.30" cy="109.00" r="2.5" fill="#0000ff" stroke="#000" stroke-width="0.75"/>
<circle cx="302.80" cy="116.40" r="2.5" fill="#0000ff" stroke="#000" stroke-width="0.75"/>
<circle cx="306.00" cy="116.00" r="2.5" fill="#0000ff" stroke="#000" stroke-width="0.75"/>
<circle cx="312.50" cy="121.00" r="2.5" fill="#0000ff" stroke="#000" stroke-width="0.75"/>
<circle cx="316.00" cy="121.90" r="2.5" fill="#0000ff" stroke="#000" stroke-width="0.75"/>
<circle cx="319.80" cy="121.20" r="2.5" fill="#0000ff" stroke="#000" stroke-width="0.75"/>
<circle cx="323.50" cy="130.50" r="2.5" fill="#0000ff" stroke="#000" stroke-width="0.75"/>
<circle cx="329.00" cy="129.50" r="2.5" fill="#0000ff" stroke="#000" stroke-width="0.75"/>
<circle cx="334.70" cy="133.80" r="2.5" fill="#0000ff" stroke="#000" stroke-width="0.75"/>
<circle cx="341.90" cy="136.50" r="2.5" fill="#0000ff" stroke="#000" stroke-width="0.75"/>
<circle cx="345.10" cy="141.30" r="2.5" fill="#0000ff" stroke="#000" stroke-width="0.75"/>
<circle cx="348.70" cy="149.00" r="2.5" fill="#0000ff" stroke="#000" stroke-width="0.75"/>
<circle cx="358.00" cy="147.20" r="2.5" fill="#0000ff" stroke="#000" stroke-width="0.75"/>
<circle cx="126.10" cy="109.00" r="2.5" fill="#ff0000" stroke="#000" stroke-width="0.75"/>
<circle cx="130.30" cy="106.20" r="2.5" fill="#ff0000" stroke="#000" stroke-width="0.75"/>
<circle cx="134.50" cy="103.60" r="2.5" fill="#ff0000" stroke="#000" stroke-width="0.75"/>
<circle cx="138.70" cy="101.10" r="2.5" fill="#ff0000" stroke="#000" stroke-width="0.75"/>
<circle cx="142.90" cy="98.10" r="2.5" fill="#ff0000" stroke="#000" stroke-width="0.75"/>
<circle cx="147.30" cy="95.00" r="2.5" fill="#ff0000" stroke="#000" stroke-width="0.75"/>
<circle cx="151.80" cy="91.40" r="2.5" fill="#ff0000" stroke="#000" stroke-width="0.75"/>
<circle cx="156.00" cy="87.80" r="2.5" fill="#ff0000" stroke="#000" stroke-width="0.75"/>
<circle cx="160.10" cy="86.00" r="2.5" fill="#ff0000" stroke="#000" stroke-width="0.75"/>
<circle cx="164.30" cy="82.80" r="2.5" fill="#ff0000" stroke="#000" stroke-width="0.75"/>
<circle cx="168.30" cy="79.70" r="2.5" fill="#ff0000" stroke="#000" stroke-width="0.75"/>
<circle cx="172.80" cy="77.70" r="2.5" fill="#ff0000" stroke="#000" stroke-width="0.75"/>
<circle cx="176.80" cy="75.30" r="2.5" fill="#ff0000" stroke="#000" stroke-width="0.75"/>
<circle cx="180.80" cy="73.70" r="2.5" fill="#ff0000" stroke="#000" stroke-width="0.75"/>
<circle cx="184.80" cy="72.10" r="2.5" fill="#ff0000" stroke="#000" stroke-width="0.75"/>
<circle cx="188.20" cy="70.80" r="2.5" fill="#ff0000" stroke="#000" stroke-width="0.75"/>
<circle cx="197.30" cy="70.30" r="2.5" fill="#ff0000" stroke="#000" stroke-width="0.75"/>
<circle cx="205.30" cy="71.80" r="2.5" fill="#ff0000" stroke="#000" stroke-width="0.75"/>
<circle cx="212.40" cy="69.80" r="2.5" fill="#ff0000" stroke="#000" stroke-width="0.75"/>
<circle cx="223.50" cy="73.00" r="2.5" fill="#ff0000" stroke="#000" stroke-width="0.75"/>
<circle cx="232.00" cy="77.70" r="2.5" fill="#ff0000" stroke="#000" stroke-width="0.75"/>
<circle cx="239.60" cy="80.00" r="2.5" fill="#ff0000" stroke="#000" stroke-width="0.75"/>
<circle cx="249.00" cy="86.00" r="2.5" fill="#ff0000" stroke="#000" stroke-width="0.75"/>
<circle cx="261.00" cy="88.30" r="2.5" fill="#ff0000" stroke="#000" stroke-width="0.75"/>
<circle cx="270.50" cy="94.80" r="2.5" fill="#ff0000" stroke="#000" stroke-width="0.75"/>
<circle cx="279.40" cy="102.40" r="2.5" fill="#ff0000" stroke="#000" stroke-width="0.75"/>
<circle cx="289.40" cy="107.70" r="2.5" fill="#ff0000" stroke="#000" stroke-width="0.75"/>
<circle cx="298.70" cy="113.10" r="2.5" fill="#ff0000" stroke="#000" stroke-width="0.75"/>
<circle cx="308.90" cy="119.00" r="2.5" fill="#ff0000" stroke="#000" stroke-width="0.75"/>
<circle cx="319.00" cy="125.40" r="2.5" fill="#ff0000" stroke="#000" stroke-width="0.75"/>
<circle cx="327.20" cy="129.60" r="2.5" fill="#ff0000" stroke="#000" stroke-width="0.75"/>
<circle cx="329.90" cy="130.90" r="2.5" fill="#ff0000" stroke="#000" stroke-width="0.75"/>
<circle cx="337.90" cy="135.40" r="2.5" fill="#ff0000" stroke="#000" stroke-width="0.75"/>
<circle cx="346.40" cy="136.00" r="2.5" fill="#ff0000" stroke="#000" stroke-width="0.75"/>
<circle cx="354.00" cy="145.60" r="2.5" fill="#ff0000" stroke="#000" stroke-width="0.75"/>
<text x="66.2" y="24.5" font-size="18.2" text-anchor="start" fill="#000" >(A)</text>
<text transform="translate(293.64,16.40) scale(1.157,1)" font-size="12.6" fill="#333">cumulant</text>
<text transform="translate(255.65,31.40) scale(0.925,1)" font-size="13.0" fill="#333" font-style="italic">b</text><text transform="translate(261.77,34.20) scale(1.180,1)" font-size="9.6" fill="#333">0</text>
<path d="M272.6,27.7 h11.4 m-2.8,-2.1 q1.2,1.9 2.9,2.1 q-1.7,0.2 -2.9,2.1" stroke="#333" stroke-width="0.75" fill="none"/>
<text transform="translate(301.75,31.40) scale(1.171,1)" font-size="12.4" fill="#333">0.2</text>
<text transform="translate(322.35,31.40) scale(0.925,1)" font-size="13.0" fill="#333" font-style="italic">b</text><text transform="translate(328.47,34.20) scale(1.180,1)" font-size="9.6" fill="#333">0</text>
<circle cx="343.00" cy="27.50" r="4.25" fill="#cc6600" stroke="#000" stroke-width="1.0"/>
<text transform="translate(255.65,46.00) scale(0.925,1)" font-size="13.0" fill="#333" font-style="italic">b</text><text transform="translate(261.77,48.80) scale(1.180,1)" font-size="9.6" fill="#333">0</text>
<path d="M272.6,42.3 h11.4 m-2.8,-2.1 q1.2,1.9 2.9,2.1 q-1.7,0.2 -2.9,2.1" stroke="#333" stroke-width="0.75" fill="none"/>
<text transform="translate(295.17,46.00) scale(1.128,1)" font-size="12.4" fill="#333">0.25</text>
<text transform="translate(322.35,46.00) scale(0.925,1)" font-size="13.0" fill="#333" font-style="italic">b</text><text transform="translate(328.47,48.80) scale(1.180,1)" font-size="9.6" fill="#333">0</text>
<circle cx="343.00" cy="41.70" r="4.25" fill="#000" stroke="#000" stroke-width="1.0"/>
<text transform="translate(255.65,60.40) scale(0.925,1)" font-size="13.0" fill="#333" font-style="italic">b</text><text transform="translate(261.77,63.20) scale(1.180,1)" font-size="9.6" fill="#333">0</text>
<path d="M272.6,56.699999999999996 h11.4 m-2.8,-2.1 q1.2,1.9 2.9,2.1 q-1.7,0.2 -2.9,2.1" stroke="#333" stroke-width="0.75" fill="none"/>
<text transform="translate(301.75,60.40) scale(1.155,1)" font-size="12.4" fill="#333">0.5</text>
<text transform="translate(322.35,60.40) scale(0.925,1)" font-size="13.0" fill="#333" font-style="italic">b</text><text transform="translate(328.47,63.20) scale(1.180,1)" font-size="9.6" fill="#333">0</text>
<circle cx="343.00" cy="56.40" r="4.25" fill="#0000ff" stroke="#000" stroke-width="1.0"/>
<text transform="translate(255.65,74.60) scale(0.925,1)" font-size="13.0" fill="#333" font-style="italic">b</text><text transform="translate(261.77,77.40) scale(1.180,1)" font-size="9.6" fill="#333">0</text>
<path d="M272.6,70.89999999999999 h11.4 m-2.8,-2.1 q1.2,1.9 2.9,2.1 q-1.7,0.2 -2.9,2.1" stroke="#333" stroke-width="0.75" fill="none"/>
<text transform="translate(322.35,74.60) scale(0.925,1)" font-size="13.0" fill="#333" font-style="italic">b</text><text transform="translate(328.47,77.40) scale(1.180,1)" font-size="9.6" fill="#333">0</text>
<circle cx="343.00" cy="70.70" r="4.25" fill="#ff0000" stroke="#000" stroke-width="1.0"/>
<text transform="translate(287.25,161.60) scale(1.178,1)" font-size="12.4" fill="#333">finite−size</text>
<text transform="translate(288.77,177.10) scale(0.893,1)" font-size="12.6" fill="#333" font-style="italic">ℓ</text><path d="M297.2,172.5 h10.1 M297.2,175.3 h10.1" stroke="#333" stroke-width="0.8"/><text transform="translate(310.85,177.10) scale(1.300,1)" font-size="11.8" fill="#333">1</text>
<rect x="339.70" y="169.10" width="7.6" height="7.6" fill="#ff0000" stroke="#000" stroke-width="0.9"/>
<text transform="translate(288.77,191.50) scale(0.893,1)" font-size="12.6" fill="#333" font-style="italic">ℓ</text><path d="M297.2,186.9 h10.1 M297.2,189.7 h10.1" stroke="#333" stroke-width="0.8"/><text transform="translate(310.50,191.50) scale(1.353,1)" font-size="11.8" fill="#333">2</text>
<rect x="339.70" y="183.60" width="7.6" height="7.6" fill="#0000ff" stroke="#000" stroke-width="0.9"/>
<text transform="translate(288.77,205.80) scale(0.893,1)" font-size="12.6" fill="#333" font-style="italic">ℓ</text><path d="M297.2,201.2 h10.1 M297.2,204.0 h10.1" stroke="#333" stroke-width="0.8"/><text transform="translate(310.93,205.80) scale(1.167,1)" font-size="11.8" fill="#333">4</text>
<rect x="339.70" y="198.10" width="7.6" height="7.6" fill="#000" stroke="#000" stroke-width="0.9"/>
<g transform="translate(13.4,108.3) rotate(-90)"><text transform="translate(-31.01,0.00) scale(0.976,1)" font-size="17" fill="#333" font-style="italic">g</text><text transform="translate(-23.18,2.60) scale(1.010,1)" font-size="12.3" fill="#333" font-style="italic">c</text><text transform="translate(-16.68,0.00) scale(1.098,1)" font-size="17" fill="#333" font-style="italic">ℓ</text><text transform="translate(1.62,0.00) scale(1.177,1)" font-size="17" fill="#333" font-style="italic">k</text><text transform="translate(11.38,2.60) scale(1.052,1)" font-size="12.3" fill="#333" font-style="italic">B</text><text transform="translate(18.02,0.00) scale(1.241,1)" font-size="17" fill="#333" font-style="italic">T</text><path d="M-8.6,3.9 L1.6,-12.6" stroke="#333" stroke-width="0.85" fill="none"/></g>
<text transform="translate(194.83,252.60) scale(1.164,1)" font-size="17" fill="#333" font-style="italic">L</text><text transform="translate(206.33,255.00) scale(0.999,1)" font-size="12.5" fill="#333" font-style="italic">p</text><text transform="translate(221.50,252.60) scale(0.872,1)" font-size="17" fill="#333" font-style="italic">ℓ</text><path d="M213.4,256.8 L220.5,239.4" stroke="#333" stroke-width="0.85" fill="none"/>
<clipPath id="cB"><rect x="55.2" y="270.95" width="305.6" height="208.45"/></clipPath><g clip-path="url(#cB)">
<path d="M72.50,485.57 L73.97,482.06 L75.45,478.55 L76.92,475.04 L78.40,471.53 L79.87,468.03 L81.35,464.52 L82.82,461.01 L84.29,457.49 L85.77,453.96 L87.24,450.42 L88.72,446.86 L90.19,443.29 L91.67,439.68 L93.14,436.02 L94.62,432.31 L96.09,428.57 L97.56,424.83 L99.04,421.13 L100.51,417.49 L101.99,413.95 L103.46,410.50 L104.94,407.14 L106.41,403.88 L107.88,400.80 L109.36,397.92 L110.83,395.20 L112.31,392.60 L113.78,390.08 L115.26,387.63 L116.73,385.19 L118.21,382.76 L119.68,380.29 L121.15,377.76 L122.63,375.17 L124.10,372.58 L125.58,370.04 L127.05,367.61 L128.53,365.28 L130.00,363.02 L131.00,361.53 L133.11,358.47 L135.22,355.53 L137.33,352.67 L139.44,349.96 L141.55,347.45 L143.66,345.10 L145.77,342.87 L147.88,340.82 L149.99,339.02 L152.10,337.40 L154.21,335.91 L156.32,334.60 L158.43,333.55 L160.54,332.66 L162.65,331.88 L164.76,331.28 L166.87,330.89 L168.98,330.58 L171.09,330.34 L173.20,330.21 L175.31,330.22 L177.42,330.34 L179.53,330.53 L181.64,330.76 L183.75,331.09 L185.86,331.61 L187.97,332.24 L190.08,332.87 L192.19,333.52 L194.30,334.22 L196.41,334.93 L198.52,335.63 L200.63,336.26 L202.74,336.94 L204.85,337.78 L206.96,338.99 L209.07,340.57 L211.18,342.27 L213.29,343.89 L215.40,345.54 L217.51,347.23 L219.62,348.94 L221.73,350.66 L223.84,352.40 L225.95,354.15 L228.06,355.91 L230.17,357.68 L232.28,359.46 L234.39,361.25 L236.50,363.03 L238.61,364.82 L240.72,366.61 L242.83,368.40 L244.94,370.19 L247.06,371.99 L249.17,373.79 L251.28,375.59 L253.39,377.41 L255.50,379.23 L257.61,381.07 L259.72,382.92 L261.83,384.79 L263.94,386.67 L266.05,388.57 L268.16,390.47 L270.27,392.39 L272.38,394.32 L274.49,396.25 L276.60,398.19 L278.71,400.13 L280.82,402.08 L282.93,404.02 L285.04,405.97 L287.15,407.92 L289.26,409.87 L291.37,411.81 L293.48,413.75 L295.59,415.70 L297.70,417.65 L299.81,419.60 L301.92,421.55 L304.03,423.51 L306.14,425.46 L308.25,427.42 L310.36,429.39 L312.47,431.35 L314.58,433.32 L316.69,435.30 L318.80,437.27 L320.91,439.25 L323.02,441.24 L325.13,443.23 L327.24,445.22 L329.35,447.22 L331.46,449.22 L333.57,451.23 L335.68,453.23 L337.79,455.24 L339.90,457.25 L342.01,459.26 L344.12,461.26 L346.23,463.27 L348.34,465.28 L350.45,467.29 L352.56,469.30 L354.67,471.31 L356.78,473.32 L358.89,475.34 L361.00,477.35 L361,491.4 L72.5,491.4 Z" fill="#fffde6"/>
<path d="M93.20,479.50 L95.66,471.01 L98.11,464.76 L100.57,459.37 L103.03,454.34 L105.48,449.57 L107.94,444.78 L110.40,440.03 L112.86,435.37 L115.31,430.85 L117.77,426.48 L120.23,422.23 L122.68,418.07 L125.14,414.01 L127.60,410.06 L130.05,406.13 L132.51,402.26 L134.97,398.50 L137.42,394.83 L139.88,391.26 L142.34,387.84 L144.79,384.54 L147.25,381.36 L149.71,378.35 L152.17,375.42 L154.62,372.57 L157.08,370.05 L159.54,368.06 L161.99,366.39 L164.45,364.93 L166.91,363.64 L169.36,362.47 L171.82,361.40 L174.28,360.51 L176.73,359.83 L179.19,359.26 L181.65,358.79 L184.10,358.46 L186.56,358.16 L189.02,357.92 L191.48,357.80 L193.93,357.83 L196.39,357.94 L198.85,358.12 L201.30,358.33 L203.76,358.63 L206.22,359.13 L208.67,359.79 L211.13,360.53 L213.59,361.34 L216.04,362.34 L218.50,363.49 L220.96,364.74 L223.41,366.05 L225.87,367.48 L228.33,369.02 L230.79,370.66 L233.24,372.35 L235.70,374.09 L238.16,375.84 L240.61,377.57 L243.07,379.34 L245.53,381.14 L247.98,382.98 L250.44,384.84 L252.90,386.73 L255.35,388.64 L257.81,390.56 L260.27,392.51 L262.72,394.50 L265.18,396.51 L267.64,398.54 L270.10,400.58 L272.55,402.63 L275.01,404.70 L277.47,406.77 L279.92,408.87 L282.38,410.96 L284.84,413.07 L287.29,415.18 L289.75,417.29 L292.21,419.40 L294.66,421.51 L297.12,423.63 L299.58,425.75 L302.03,427.87 L304.49,430.00 L306.95,432.13 L309.41,434.27 L311.86,436.40 L314.32,438.54 L316.78,440.69 L319.23,442.83 L321.69,444.98 L324.15,447.13 L326.60,449.29 L329.06,451.45 L331.52,453.62 L333.97,455.79 L336.43,457.96 L338.89,460.12 L341.34,462.29 L343.80,464.45 L346.26,466.60 L348.72,468.76 L351.17,470.91 L353.63,473.06 L356.09,475.21 L358.54,477.35 L361.00,479.50 L361,479.4 L93.5,479.4 Z" fill="#fffbcc"/>
<path d="M55.2,452.5 L121.20,270.95" stroke="#000" stroke-width="1.7"/>
<path d="M133.8,270.95 L232,360.95" stroke="#000" stroke-width="1.7"/>
<rect x="142.5" y="285.8" width="71.5" height="15.2" fill="#fff"/>
<text x="144" y="299.5" font-size="18.6" text-anchor="start" fill="#000"  textLength="68.5" lengthAdjust="spacingAndGlyphs">adsorbed</text>
<text x="144" y="441.2" font-size="18.6" text-anchor="start" fill="#000"  textLength="68.5" lengthAdjust="spacingAndGlyphs">desorbed</text>
<path d="M72.50,485.57 L73.97,482.06 L75.45,478.55 L76.92,475.04 L78.40,471.53 L79.87,468.03 L81.35,464.52 L82.82,461.01 L84.29,457.49 L85.77,453.96 L87.24,450.42 L88.72,446.86 L90.19,443.29 L91.67,439.68 L93.14,436.02 L94.62,432.31 L96.09,428.57 L97.56,424.83 L99.04,421.13 L100.51,417.49 L101.99,413.95 L103.46,410.50 L104.94,407.14 L106.41,403.88 L107.88,400.80 L109.36,397.92 L110.83,395.20 L112.31,392.60 L113.78,390.08 L115.26,387.63 L116.73,385.19 L118.21,382.76 L119.68,380.29 L121.15,377.76 L122.63,375.17 L124.10,372.58 L125.58,370.04 L127.05,367.61 L128.53,365.28 L130.00,363.02 L131.00,361.53 L133.11,358.47 L135.22,355.53 L137.33,352.67 L139.44,349.96 L141.55,347.45 L143.66,345.10 L145.77,342.87 L147.88,340.82 L149.99,339.02 L152.10,337.40 L154.21,335.91 L156.32,334.60 L158.43,333.55 L160.54,332.66 L162.65,331.88 L164.76,331.28 L166.87,330.89 L168.98,330.58 L171.09,330.34 L173.20,330.21 L175.31,330.22 L177.42,330.34 L179.53,330.53 L181.64,330.76 L183.75,331.09 L185.86,331.61 L187.97,332.24 L190.08,332.87 L192.19,333.52 L194.30,334.22 L196.41,334.93 L198.52,335.63 L200.63,336.26 L202.74,336.94 L204.85,337.78 L206.96,338.99 L209.07,340.57 L211.18,342.27 L213.29,343.89 L215.40,345.54 L217.51,347.23 L219.62,348.94 L221.73,350.66 L223.84,352.40 L225.95,354.15 L228.06,355.91 L230.17,357.68 L232.28,359.46 L234.39,361.25 L236.50,363.03 L238.61,364.82 L240.72,366.61 L242.83,368.40 L244.94,370.19 L247.06,371.99 L249.17,373.79 L251.28,375.59 L253.39,377.41 L255.50,379.23 L257.61,381.07 L259.72,382.92 L261.83,384.79 L263.94,386.67 L266.05,388.57 L268.16,390.47 L270.27,392.39 L272.38,394.32 L274.49,396.25 L276.60,398.19 L278.71,400.13 L280.82,402.08 L282.93,404.02 L285.04,405.97 L287.15,407.92 L289.26,409.87 L291.37,411.81 L293.48,413.75 L295.59,415.70 L297.70,417.65 L299.81,419.60 L301.92,421.55 L304.03,423.51 L306.14,425.46 L308.25,427.42 L310.36,429.39 L312.47,431.35 L314.58,433.32 L316.69,435.30 L318.80,437.27 L320.91,439.25 L323.02,441.24 L325.13,443.23 L327.24,445.22 L329.35,447.22 L331.46,449.22 L333.57,451.23 L335.68,453.23 L337.79,455.24 L339.90,457.25 L342.01,459.26 L344.12,461.26 L346.23,463.27 L348.34,465.28 L350.45,467.29 L352.56,469.30 L354.67,471.31 L356.78,473.32 L358.89,475.34 L361.00,477.35" stroke="#ff0000" stroke-width="3.6" fill="none"/>
<path d="M72.50,487.11 L73.97,483.60 L75.45,480.09 L76.92,476.57 L78.40,473.06 L79.87,469.54 L81.35,466.03 L82.82,462.51 L84.29,458.99 L85.77,455.46 L87.24,451.91 L88.72,448.36 L90.19,444.79 L91.67,441.19 L93.14,437.56 L94.62,433.87 L96.09,430.14 L97.56,426.40 L99.04,422.68 L100.51,419.00 L101.99,415.41 L103.46,411.91 L104.94,408.51 L106.41,405.17 L107.88,401.99 L109.36,399.02 L110.83,396.24 L112.31,393.59 L113.78,391.04 L115.26,388.56 L116.73,386.12 L118.21,383.70 L119.68,381.25 L121.15,378.75 L122.63,376.20 L124.10,373.62 L125.58,371.08 L127.05,368.62 L128.53,366.25 L130.00,363.96 L131.00,362.45 L133.11,359.34 L135.22,356.36 L137.33,353.46 L139.44,350.70 L141.55,348.15 L143.66,345.77 L145.77,343.51 L147.88,341.43 L149.99,339.58 L152.10,337.92 L154.21,336.39 L156.32,335.05 L158.43,333.96 L160.54,333.05 L162.65,332.26 L164.76,331.63 L166.87,331.24 L168.98,330.93 L171.09,330.68 L173.20,330.55 L175.31,330.56 L177.42,330.67 L179.53,330.86 L181.64,331.09 L183.75,331.43 L185.86,331.96 L187.97,332.60 L190.08,333.24 L192.19,333.89 L194.30,334.59 L196.41,335.32 L198.52,336.03 L200.63,336.69 L202.74,337.39 L204.85,338.26 L206.96,339.48 L209.07,341.07 L211.18,342.77 L213.29,344.40 L215.40,346.06 L217.51,347.76 L219.62,349.48 L221.73,351.20 L223.84,352.94 L225.95,354.69 L228.06,356.46 L230.17,358.23 L232.28,360.01 L234.39,361.80 L236.50,363.59 L238.61,365.38 L240.72,367.18 L242.83,368.97 L244.94,370.76 L247.06,372.56 L249.17,374.36 L251.28,376.17 L253.39,377.99 L255.50,379.82 L257.61,381.66 L259.72,383.51 L261.83,385.38 L263.94,387.26 L266.05,389.16 L268.16,391.07 L270.27,392.98 L272.38,394.91 L274.49,396.84 L276.60,398.78 L278.71,400.72 L280.82,402.67 L282.93,404.62 L285.04,406.56 L287.15,408.51 L289.26,410.45 L291.37,412.40 L293.48,414.34 L295.59,416.28 L297.70,418.23 L299.81,420.18 L301.92,422.13 L304.03,424.09 L306.14,426.04 L308.25,428.00 L310.36,429.96 L312.47,431.92 L314.58,433.89 L316.69,435.86 L318.80,437.83 L320.91,439.81 L323.02,441.79 L325.13,443.78 L327.24,445.77 L329.35,447.76 L331.46,449.76 L333.57,451.76 L335.68,453.76 L337.79,455.76 L339.90,457.76 L342.01,459.77 L344.12,461.77 L346.23,463.77 L348.34,465.77 L350.45,467.78 L352.56,469.79 L354.67,471.79 L356.78,473.80 L358.89,475.81 L361.00,477.83" stroke="#000" stroke-width="1.8" fill="none"/>
<path d="M93.20,479.50 L95.66,471.01 L98.11,464.76 L100.57,459.37 L103.03,454.34 L105.48,449.57 L107.94,444.78 L110.40,440.03 L112.86,435.37 L115.31,430.85 L117.77,426.48 L120.23,422.23 L122.68,418.07 L125.14,414.01 L127.60,410.06 L130.05,406.13 L132.51,402.26 L134.97,398.50 L137.42,394.83 L139.88,391.26 L142.34,387.84 L144.79,384.54 L147.25,381.36 L149.71,378.35 L152.17,375.42 L154.62,372.57 L157.08,370.05 L159.54,368.06 L161.99,366.39 L164.45,364.93 L166.91,363.64 L169.36,362.47 L171.82,361.40 L174.28,360.51 L176.73,359.83 L179.19,359.26 L181.65,358.79 L184.10,358.46 L186.56,358.16 L189.02,357.92 L191.48,357.80 L193.93,357.83 L196.39,357.94 L198.85,358.12 L201.30,358.33 L203.76,358.63 L206.22,359.13 L208.67,359.79 L211.13,360.53 L213.59,361.34 L216.04,362.34 L218.50,363.49 L220.96,364.74 L223.41,366.05 L225.87,367.48 L228.33,369.02 L230.79,370.66 L233.24,372.35 L235.70,374.09 L238.16,375.84 L240.61,377.57 L243.07,379.34 L245.53,381.14 L247.98,382.98 L250.44,384.84 L252.90,386.73 L255.35,388.64 L257.81,390.56 L260.27,392.51 L262.72,394.50 L265.18,396.51 L267.64,398.54 L270.10,400.58 L272.55,402.63 L275.01,404.70 L277.47,406.77 L279.92,408.87 L282.38,410.96 L284.84,413.07 L287.29,415.18 L289.75,417.29 L292.21,419.40 L294.66,421.51 L297.12,423.63 L299.58,425.75 L302.03,427.87 L304.49,430.00 L306.95,432.13 L309.41,434.27 L311.86,436.40 L314.32,438.54 L316.78,440.69 L319.23,442.83 L321.69,444.98 L324.15,447.13 L326.60,449.29 L329.06,451.45 L331.52,453.62 L333.97,455.79 L336.43,457.96 L338.89,460.12 L341.34,462.29 L343.80,464.45 L346.26,466.60 L348.72,468.76 L351.17,470.91 L353.63,473.06 L356.09,475.21 L358.54,477.35 L361.00,479.50" stroke="#0000ff" stroke-width="3.6" fill="none"/>
<path d="M93.20,479.50 L95.66,471.01 L98.11,464.76 L100.57,459.37 L103.03,454.34 L105.48,449.57 L107.94,444.78 L110.40,440.03 L112.86,435.37 L115.31,430.85 L117.77,426.48 L120.23,422.23 L122.68,418.07 L125.14,414.01 L127.60,410.06 L130.05,406.13 L132.51,402.26 L134.97,398.50 L137.42,394.83 L139.88,391.26 L142.34,387.84 L144.79,384.54 L147.25,381.36 L149.71,378.35 L152.17,375.42 L154.62,372.57 L157.08,370.05 L159.54,368.06 L161.99,366.39 L164.45,364.93 L166.91,363.64 L169.36,362.47 L171.82,361.40 L174.28,360.51 L176.73,359.83 L179.19,359.26 L181.65,358.79 L184.10,358.46 L186.56,358.16 L189.02,357.92 L191.48,357.80 L193.93,357.83 L196.39,357.94 L198.85,358.12 L201.30,358.33 L203.76,358.63 L206.22,359.13 L208.67,359.79 L211.13,360.53 L213.59,361.34 L216.04,362.34 L218.50,363.49 L220.96,364.74 L223.41,366.05 L225.87,367.48 L228.33,369.02 L230.79,370.66 L233.24,372.35 L235.70,374.09 L238.16,375.84 L240.61,377.57 L243.07,379.34 L245.53,381.14 L247.98,382.98 L250.44,384.84 L252.90,386.73 L255.35,388.64 L257.81,390.56 L260.27,392.51 L262.72,394.50 L265.18,396.51 L267.64,398.54 L270.10,400.58 L272.55,402.63 L275.01,404.70 L277.47,406.77 L279.92,408.87 L282.38,410.96 L284.84,413.07 L287.29,415.18 L289.75,417.29 L292.21,419.40 L294.66,421.51 L297.12,423.63 L299.58,425.75 L302.03,427.87 L304.49,430.00 L306.95,432.13 L309.41,434.27 L311.86,436.40 L314.32,438.54 L316.78,440.69 L319.23,442.83 L321.69,444.98 L324.15,447.13 L326.60,449.29 L329.06,451.45 L331.52,453.62 L333.97,455.79 L336.43,457.96 L338.89,460.12 L341.34,462.29 L343.80,464.45 L346.26,466.60 L348.72,468.76 L351.17,470.91 L353.63,473.06 L356.09,475.21 L358.54,477.35 L361.00,479.50" stroke="#000" stroke-width="1.3" fill="none"/>
</g>
<path d="M55.00,479.4 v-6.5" stroke="#111" stroke-width="1.0"/>
<path d="M85.71,479.4 v-3.6" stroke="#111" stroke-width="1.0"/>
<path d="M103.67,479.4 v-3.6" stroke="#111" stroke-width="1.0"/>
<path d="M116.41,479.4 v-3.6" stroke="#111" stroke-width="1.0"/>
<path d="M126.29,479.4 v-3.6" stroke="#111" stroke-width="1.0"/>
<path d="M134.37,479.4 v-3.6" stroke="#111" stroke-width="1.0"/>
<path d="M141.20,479.4 v-3.6" stroke="#111" stroke-width="1.0"/>
<path d="M147.12,479.4 v-3.6" stroke="#111" stroke-width="1.0"/>
<path d="M152.33,479.4 v-3.6" stroke="#111" stroke-width="1.0"/>
<path d="M157.00,479.4 v-6.5" stroke="#111" stroke-width="1.0"/>
<path d="M187.71,479.4 v-3.6" stroke="#111" stroke-width="1.0"/>
<path d="M205.67,479.4 v-3.6" stroke="#111" stroke-width="1.0"/>
<path d="M218.41,479.4 v-3.6" stroke="#111" stroke-width="1.0"/>
<path d="M228.29,479.4 v-3.6" stroke="#111" stroke-width="1.0"/>
<path d="M236.37,479.4 v-3.6" stroke="#111" stroke-width="1.0"/>
<path d="M243.20,479.4 v-3.6" stroke="#111" stroke-width="1.0"/>
<path d="M249.12,479.4 v-3.6" stroke="#111" stroke-width="1.0"/>
<path d="M254.33,479.4 v-3.6" stroke="#111" stroke-width="1.0"/>
<path d="M259.00,479.4 v-6.5" stroke="#111" stroke-width="1.0"/>
<path d="M289.71,479.4 v-3.6" stroke="#111" stroke-width="1.0"/>
<path d="M307.67,479.4 v-3.6" stroke="#111" stroke-width="1.0"/>
<path d="M320.41,479.4 v-3.6" stroke="#111" stroke-width="1.0"/>
<path d="M330.29,479.4 v-3.6" stroke="#111" stroke-width="1.0"/>
<path d="M338.37,479.4 v-3.6" stroke="#111" stroke-width="1.0"/>
<path d="M345.20,479.4 v-3.6" stroke="#111" stroke-width="1.0"/>
<path d="M351.12,479.4 v-3.6" stroke="#111" stroke-width="1.0"/>
<path d="M356.33,479.4 v-3.6" stroke="#111" stroke-width="1.0"/>
<path d="M361.00,479.4 v-6.5" stroke="#111" stroke-width="1.0"/>
<path d="M55.2,282.60 h6.8" stroke="#111" stroke-width="1.0"/>
<path d="M55.2,367.35 h6.8" stroke="#111" stroke-width="1.0"/>
<path d="M55.2,479.40 h6.8" stroke="#111" stroke-width="1.0"/>
<path d="M55.2,295.48 h4" stroke="#111" stroke-width="1.0"/>
<path d="M55.2,309.89 h4" stroke="#111" stroke-width="1.0"/>
<path d="M55.2,326.21 h4" stroke="#111" stroke-width="1.0"/>
<path d="M55.2,345.06 h4" stroke="#111" stroke-width="1.0"/>
<path d="M55.2,394.64 h4" stroke="#111" stroke-width="1.0"/>
<path d="M55.2,429.82 h4" stroke="#111" stroke-width="1.0"/>
<rect x="55.2" y="270.95" width="305.6" height="208.45" fill="none" stroke="#111" stroke-width="1.05"/>
<text x="47.3" y="289.1" font-size="17.4" text-anchor="end" fill="#333" >1</text>
<text x="47.3" y="373.9" font-size="17.4" text-anchor="end" fill="#333" >0.5</text>
<text x="47.3" y="485.9" font-size="17.4" text-anchor="end" fill="#333" >0.2</text>
<text x="55.2" y="498.9" font-size="17.4" text-anchor="middle" fill="#333" >0.1</text>
<text x="157.2" y="498.9" font-size="17.4" text-anchor="middle" fill="#333" >1</text>
<text x="259.2" y="498.9" font-size="17.4" text-anchor="middle" fill="#333" >10</text>
<text x="361.2" y="498.9" font-size="17.4" text-anchor="middle" fill="#333" >100</text>
<path d="M95.80,448.30 V479.00 M92.60,448.30 h6.4 M92.60,479.00 h6.4" stroke="#0000ff" stroke-width="1.0" fill="none"/>
<path d="M126.20,397.50 V418.40 M123.00,397.50 h6.4 M123.00,418.40 h6.4" stroke="#0000ff" stroke-width="1.0" fill="none"/>
<path d="M156.80,366.00 V376.00 M153.60,366.00 h6.4 M153.60,376.00 h6.4" stroke="#0000ff" stroke-width="1.0" fill="none"/>
<path d="M205.70,362.00 V373.00 M202.50,362.00 h6.4 M202.50,373.00 h6.4" stroke="#0000ff" stroke-width="1.0" fill="none"/>
<path d="M258.70,388.00 V407.00 M255.50,388.00 h6.4 M255.50,407.00 h6.4" stroke="#0000ff" stroke-width="1.0" fill="none"/>
<path d="M289.40,410.50 V449.40 M286.20,410.50 h6.4 M286.20,449.40 h6.4" stroke="#0000ff" stroke-width="1.0" fill="none"/>
<rect x="153.10" y="367.30" width="7.4" height="7.4" fill="#ff0000" stroke="#000" stroke-width="0.8"/>
<rect x="184.00" y="355.00" width="7.4" height="7.4" fill="#ff0000" stroke="#000" stroke-width="0.8"/>
<rect x="193.60" y="355.10" width="7.4" height="7.4" fill="#ff0000" stroke="#000" stroke-width="0.8"/>
<rect x="209.00" y="358.80" width="7.4" height="7.4" fill="#ff0000" stroke="#000" stroke-width="0.8"/>
<rect x="224.00" y="365.60" width="7.4" height="7.4" fill="#ff0000" stroke="#000" stroke-width="0.8"/>
<rect x="244.70" y="378.90" width="7.4" height="7.4" fill="#ff0000" stroke="#000" stroke-width="0.8"/>
<rect x="272.40" y="402.30" width="7.4" height="7.4" fill="#ff0000" stroke="#000" stroke-width="0.8"/>
<rect x="295.50" y="421.80" width="7.4" height="7.4" fill="#ff0000" stroke="#000" stroke-width="0.8"/>
<rect x="316.10" y="439.50" width="7.4" height="7.4" fill="#ff0000" stroke="#000" stroke-width="0.8"/>
<rect x="92.10" y="465.70" width="7.4" height="7.4" fill="#0000ff" stroke="#000" stroke-width="0.8"/>
<rect x="122.50" y="408.60" width="7.4" height="7.4" fill="#0000ff" stroke="#000" stroke-width="0.8"/>
<rect x="153.10" y="370.10" width="7.4" height="7.4" fill="#0000ff" stroke="#000" stroke-width="0.8"/>
<rect x="202.10" y="358.90" width="7.4" height="7.4" fill="#0000ff" stroke="#000" stroke-width="0.8"/>
<rect x="255.00" y="392.30" width="7.4" height="7.4" fill="#0000ff" stroke="#000" stroke-width="0.8"/>
<rect x="285.70" y="416.60" width="7.4" height="7.4" fill="#0000ff" stroke="#000" stroke-width="0.8"/>
<circle cx="64.60" cy="466.30" r="2.5" fill="#000" stroke="#000" stroke-width="0.75"/>
<circle cx="72.90" cy="450.80" r="2.5" fill="#000" stroke="#000" stroke-width="0.75"/>
<circle cx="80.80" cy="433.60" r="2.5" fill="#000" stroke="#000" stroke-width="0.75"/>
<circle cx="88.70" cy="417.70" r="2.5" fill="#000" stroke="#000" stroke-width="0.75"/>
<circle cx="97.20" cy="400.30" r="2.5" fill="#000" stroke="#000" stroke-width="0.75"/>
<circle cx="105.00" cy="383.00" r="2.5" fill="#000" stroke="#000" stroke-width="0.75"/>
<circle cx="113.10" cy="368.80" r="2.5" fill="#000" stroke="#000" stroke-width="0.75"/>
<circle cx="121.00" cy="364.20" r="2.5" fill="#000" stroke="#000" stroke-width="0.75"/>
<circle cx="129.20" cy="359.70" r="2.5" fill="#000" stroke="#000" stroke-width="0.75"/>
<circle cx="137.50" cy="329.80" r="2.5" fill="#000" stroke="#000" stroke-width="0.75"/>
<circle cx="145.60" cy="350.90" r="2.5" fill="#000" stroke="#000" stroke-width="0.75"/>
<circle cx="153.10" cy="331.70" r="2.5" fill="#000" stroke="#000" stroke-width="0.75"/>
<circle cx="161.80" cy="333.90" r="2.5" fill="#000" stroke="#000" stroke-width="0.75"/>
<circle cx="169.60" cy="317.90" r="2.5" fill="#000" stroke="#000" stroke-width="0.75"/>
<circle cx="177.80" cy="339.60" r="2.5" fill="#000" stroke="#000" stroke-width="0.75"/>
<circle cx="185.60" cy="333.90" r="2.5" fill="#000" stroke="#000" stroke-width="0.75"/>
<circle cx="193.40" cy="339.10" r="2.5" fill="#000" stroke="#000" stroke-width="0.75"/>
<circle cx="201.80" cy="351.80" r="2.5" fill="#000" stroke="#000" stroke-width="0.75"/>
<circle cx="210.00" cy="357.00" r="2.5" fill="#000" stroke="#000" stroke-width="0.75"/>
<circle cx="217.50" cy="353.70" r="2.5" fill="#000" stroke="#000" stroke-width="0.75"/>
<circle cx="226.20" cy="363.60" r="2.5" fill="#000" stroke="#000" stroke-width="0.75"/>
<circle cx="234.00" cy="366.00" r="2.5" fill="#000" stroke="#000" stroke-width="0.75"/>
<circle cx="241.80" cy="367.60" r="2.5" fill="#000" stroke="#000" stroke-width="0.75"/>
<circle cx="250.20" cy="385.30" r="2.5" fill="#000" stroke="#000" stroke-width="0.75"/>
<circle cx="258.00" cy="386.80" r="2.5" fill="#000" stroke="#000" stroke-width="0.75"/>
<circle cx="266.80" cy="403.00" r="2.5" fill="#000" stroke="#000" stroke-width="0.75"/>
<circle cx="275.00" cy="403.90" r="2.5" fill="#000" stroke="#000" stroke-width="0.75"/>
<circle cx="282.50" cy="420.40" r="2.5" fill="#000" stroke="#000" stroke-width="0.75"/>
<circle cx="290.60" cy="421.30" r="2.5" fill="#000" stroke="#000" stroke-width="0.75"/>
<circle cx="298.60" cy="418.80" r="2.5" fill="#000" stroke="#000" stroke-width="0.75"/>
<circle cx="306.50" cy="431.70" r="2.5" fill="#000" stroke="#000" stroke-width="0.75"/>
<circle cx="314.80" cy="432.30" r="2.5" fill="#000" stroke="#000" stroke-width="0.75"/>
<circle cx="323.00" cy="448.00" r="2.5" fill="#000" stroke="#000" stroke-width="0.75"/>
<circle cx="103.30" cy="395.50" r="2.5" fill="#0000ff" stroke="#000" stroke-width="0.75"/>
<circle cx="111.50" cy="382.50" r="2.5" fill="#0000ff" stroke="#000" stroke-width="0.75"/>
<circle cx="119.60" cy="370.60" r="2.5" fill="#0000ff" stroke="#000" stroke-width="0.75"/>
<circle cx="135.90" cy="344.90" r="2.5" fill="#0000ff" stroke="#000" stroke-width="0.75"/>
<circle cx="143.60" cy="338.80" r="2.5" fill="#0000ff" stroke="#000" stroke-width="0.75"/>
<circle cx="152.10" cy="332.00" r="2.5" fill="#0000ff" stroke="#000" stroke-width="0.75"/>
<circle cx="168.20" cy="321.70" r="2.5" fill="#0000ff" stroke="#000" stroke-width="0.75"/>
<circle cx="176.10" cy="326.10" r="2.5" fill="#0000ff" stroke="#000" stroke-width="0.75"/>
<circle cx="192.60" cy="336.50" r="2.5" fill="#0000ff" stroke="#000" stroke-width="0.75"/>
<circle cx="200.40" cy="338.20" r="2.5" fill="#0000ff" stroke="#000" stroke-width="0.75"/>
<circle cx="208.20" cy="340.60" r="2.5" fill="#0000ff" stroke="#000" stroke-width="0.75"/>
<circle cx="216.30" cy="349.30" r="2.5" fill="#0000ff" stroke="#000" stroke-width="0.75"/>
<circle cx="224.50" cy="352.80" r="2.5" fill="#0000ff" stroke="#000" stroke-width="0.75"/>
<circle cx="232.50" cy="365.80" r="2.5" fill="#0000ff" stroke="#000" stroke-width="0.75"/>
<circle cx="240.60" cy="362.40" r="2.5" fill="#0000ff" stroke="#000" stroke-width="0.75"/>
<circle cx="256.80" cy="382.70" r="2.5" fill="#0000ff" stroke="#000" stroke-width="0.75"/>
<circle cx="265.10" cy="385.80" r="2.5" fill="#0000ff" stroke="#000" stroke-width="0.75"/>
<circle cx="272.90" cy="396.10" r="2.5" fill="#0000ff" stroke="#000" stroke-width="0.75"/>
<circle cx="281.10" cy="410.00" r="2.5" fill="#0000ff" stroke="#000" stroke-width="0.75"/>
<circle cx="289.40" cy="416.90" r="2.5" fill="#0000ff" stroke="#000" stroke-width="0.75"/>
<circle cx="297.60" cy="419.30" r="2.5" fill="#0000ff" stroke="#000" stroke-width="0.75"/>
<circle cx="305.20" cy="425.60" r="2.5" fill="#0000ff" stroke="#000" stroke-width="0.75"/>
<circle cx="313.50" cy="435.50" r="2.5" fill="#0000ff" stroke="#000" stroke-width="0.75"/>
<circle cx="321.50" cy="436.70" r="2.5" fill="#0000ff" stroke="#000" stroke-width="0.75"/>
<circle cx="329.50" cy="450.10" r="2.5" fill="#0000ff" stroke="#000" stroke-width="0.75"/>
<circle cx="126.30" cy="364.20" r="2.5" fill="#ff0000" stroke="#000" stroke-width="0.75"/>
<circle cx="134.00" cy="354.10" r="2.5" fill="#ff0000" stroke="#000" stroke-width="0.75"/>
<circle cx="142.00" cy="344.90" r="2.5" fill="#ff0000" stroke="#000" stroke-width="0.75"/>
<circle cx="150.30" cy="338.70" r="2.5" fill="#ff0000" stroke="#000" stroke-width="0.75"/>
<circle cx="157.00" cy="336.50" r="2.5" fill="#ff0000" stroke="#000" stroke-width="0.75"/>
<circle cx="166.50" cy="326.90" r="2.5" fill="#ff0000" stroke="#000" stroke-width="0.75"/>
<circle cx="174.30" cy="329.20" r="2.5" fill="#ff0000" stroke="#000" stroke-width="0.75"/>
<circle cx="182.20" cy="324.30" r="2.5" fill="#ff0000" stroke="#000" stroke-width="0.75"/>
<circle cx="197.80" cy="336.50" r="2.5" fill="#ff0000" stroke="#000" stroke-width="0.75"/>
<circle cx="206.20" cy="338.00" r="2.5" fill="#ff0000" stroke="#000" stroke-width="0.75"/>
<circle cx="213.70" cy="347.60" r="2.5" fill="#ff0000" stroke="#000" stroke-width="0.75"/>
<circle cx="222.40" cy="350.70" r="2.5" fill="#ff0000" stroke="#000" stroke-width="0.75"/>
<circle cx="231.10" cy="361.00" r="2.5" fill="#ff0000" stroke="#000" stroke-width="0.75"/>
<circle cx="238.90" cy="372.30" r="2.5" fill="#ff0000" stroke="#000" stroke-width="0.75"/>
<circle cx="246.70" cy="374.50" r="2.5" fill="#ff0000" stroke="#000" stroke-width="0.75"/>
<circle cx="263.00" cy="384.20" r="2.5" fill="#ff0000" stroke="#000" stroke-width="0.75"/>
<circle cx="287.70" cy="411.70" r="2.5" fill="#ff0000" stroke="#000" stroke-width="0.75"/>
<circle cx="311.60" cy="430.50" r="2.5" fill="#ff0000" stroke="#000" stroke-width="0.75"/>
<circle cx="328.10" cy="446.10" r="2.5" fill="#ff0000" stroke="#000" stroke-width="0.75"/>
<circle cx="336.10" cy="453.70" r="2.5" fill="#ff0000" stroke="#000" stroke-width="0.75"/>
<circle cx="344.10" cy="459.20" r="2.5" fill="#ff0000" stroke="#000" stroke-width="0.75"/>
<circle cx="352.20" cy="466.20" r="2.5" fill="#ff0000" stroke="#000" stroke-width="0.75"/>
<circle cx="360.20" cy="471.20" r="2.5" fill="#ff0000" stroke="#000" stroke-width="0.75"/>
<circle cx="96.4" cy="412.5" r="4.9" fill="#fff" stroke="#0000ff" stroke-width="1.0"/>
<circle cx="96.40" cy="412.50" r="2.5" fill="#0000ff" stroke="#000" stroke-width="0.75"/>
<circle cx="127" cy="352.4" r="4.9" fill="#fff" stroke="#0000ff" stroke-width="1.0"/>
<circle cx="127.00" cy="352.40" r="2.5" fill="#0000ff" stroke="#000" stroke-width="0.75"/>
<circle cx="158.3" cy="325" r="4.9" fill="#fff" stroke="#0000ff" stroke-width="1.0"/>
<circle cx="158.30" cy="325.00" r="2.5" fill="#0000ff" stroke="#000" stroke-width="0.75"/>
<circle cx="187.2" cy="326.8" r="4.9" fill="#fff" stroke="#0000ff" stroke-width="1.0"/>
<circle cx="187.20" cy="326.80" r="2.5" fill="#0000ff" stroke="#000" stroke-width="0.75"/>
<circle cx="218.6" cy="342.4" r="4.9" fill="#fff" stroke="#0000ff" stroke-width="1.0"/>
<circle cx="218.60" cy="342.40" r="2.5" fill="#0000ff" stroke="#000" stroke-width="0.75"/>
<circle cx="250.1" cy="368.8" r="4.9" fill="#fff" stroke="#0000ff" stroke-width="1.0"/>
<circle cx="250.10" cy="368.80" r="2.5" fill="#0000ff" stroke="#000" stroke-width="0.75"/>
<text x="66.2" y="289.2" font-size="18.2" text-anchor="start" fill="#000" >(B)</text>
<text transform="translate(299.15,285.60) scale(1.153,1)" font-size="12.6" fill="#333">cumulant</text>
<text transform="translate(261.45,301.40) scale(0.925,1)" font-size="13.0" fill="#333" font-style="italic">b</text><text transform="translate(267.57,304.20) scale(1.180,1)" font-size="9.6" fill="#333">0</text>
<path d="M278.40000000000003,297.7 h11.4 m-2.8,-2.1 q1.2,1.9 2.9,2.1 q-1.7,0.2 -2.9,2.1" stroke="#333" stroke-width="0.75" fill="none"/>
<text transform="translate(300.97,301.40) scale(1.128,1)" font-size="12.4" fill="#333">0.25</text>
<text transform="translate(328.15,301.40) scale(0.925,1)" font-size="13.0" fill="#333" font-style="italic">b</text><text transform="translate(334.27,304.20) scale(1.180,1)" font-size="9.6" fill="#333">0</text>
<circle cx="348.80" cy="296.80" r="4.25" fill="#000" stroke="#000" stroke-width="1.0"/>
<text transform="translate(261.45,315.50) scale(0.925,1)" font-size="13.0" fill="#333" font-style="italic">b</text><text transform="translate(267.57,318.30) scale(1.180,1)" font-size="9.6" fill="#333">0</text>
<path d="M278.40000000000003,311.8 h11.4 m-2.8,-2.1 q1.2,1.9 2.9,2.1 q-1.7,0.2 -2.9,2.1" stroke="#333" stroke-width="0.75" fill="none"/>
<text transform="translate(307.55,315.50) scale(1.155,1)" font-size="12.4" fill="#333">0.5</text>
<text transform="translate(328.15,315.50) scale(0.925,1)" font-size="13.0" fill="#333" font-style="italic">b</text><text transform="translate(334.27,318.30) scale(1.180,1)" font-size="9.6" fill="#333">0</text>
<circle cx="348.80" cy="311.70" r="4.25" fill="#0000ff" stroke="#000" stroke-width="1.0"/>
<text transform="translate(261.45,329.90) scale(0.925,1)" font-size="13.0" fill="#333" font-style="italic">b</text><text transform="translate(267.57,332.70) scale(1.180,1)" font-size="9.6" fill="#333">0</text>
<path d="M278.40000000000003,326.2 h11.4 m-2.8,-2.1 q1.2,1.9 2.9,2.1 q-1.7,0.2 -2.9,2.1" stroke="#333" stroke-width="0.75" fill="none"/>
<text transform="translate(328.15,329.90) scale(0.925,1)" font-size="13.0" fill="#333" font-style="italic">b</text><text transform="translate(334.27,332.70) scale(1.180,1)" font-size="9.6" fill="#333">0</text>
<circle cx="348.80" cy="325.90" r="4.25" fill="#ff0000" stroke="#000" stroke-width="1.0"/>
<text transform="translate(291.25,354.70) scale(1.185,1)" font-size="12.4" fill="#333">finite−size</text>
<text transform="translate(293.17,370.40) scale(0.893,1)" font-size="12.6" fill="#333" font-style="italic">ℓ</text><path d="M301.6,365.8 h10.1 M301.6,368.6 h10.1" stroke="#333" stroke-width="0.8"/><text transform="translate(315.25,370.40) scale(1.300,1)" font-size="11.8" fill="#333">1</text>
<rect x="344.10" y="361.90" width="7.6" height="7.6" fill="#ff0000" stroke="#000" stroke-width="0.9"/>
<text transform="translate(293.17,384.10) scale(0.893,1)" font-size="12.6" fill="#333" font-style="italic">ℓ</text><path d="M301.6,379.5 h10.1 M301.6,382.3 h10.1" stroke="#333" stroke-width="0.8"/><text transform="translate(315.33,384.10) scale(1.167,1)" font-size="11.8" fill="#333">4</text>
<rect x="344.10" y="375.90" width="7.6" height="7.6" fill="#0000ff" stroke="#000" stroke-width="0.9"/>
<g transform="translate(13.4,372.5) rotate(-90)"><text transform="translate(-31.01,0.00) scale(0.976,1)" font-size="17" fill="#333" font-style="italic">g</text><text transform="translate(-23.18,2.60) scale(1.010,1)" font-size="12.3" fill="#333" font-style="italic">c</text><text transform="translate(-16.68,0.00) scale(1.098,1)" font-size="17" fill="#333" font-style="italic">ℓ</text><text transform="translate(1.62,0.00) scale(1.177,1)" font-size="17" fill="#333" font-style="italic">k</text><text transform="translate(11.38,2.60) scale(1.052,1)" font-size="12.3" fill="#333" font-style="italic">B</text><text transform="translate(18.02,0.00) scale(1.241,1)" font-size="17" fill="#333" font-style="italic">T</text><path d="M-8.6,3.9 L1.6,-12.6" stroke="#333" stroke-width="0.85" fill="none"/></g>
<text transform="translate(194.83,517.50) scale(1.164,1)" font-size="17" fill="#333" font-style="italic">L</text><text transform="translate(206.33,519.90) scale(0.999,1)" font-size="12.5" fill="#333" font-style="italic">p</text><text transform="translate(221.50,517.50) scale(0.872,1)" font-size="17" fill="#333" font-style="italic">ℓ</text><path d="M213.4,521.7 L220.5,504.3" stroke="#333" stroke-width="0.85" fill="none"/>
</svg>
</body></html>
